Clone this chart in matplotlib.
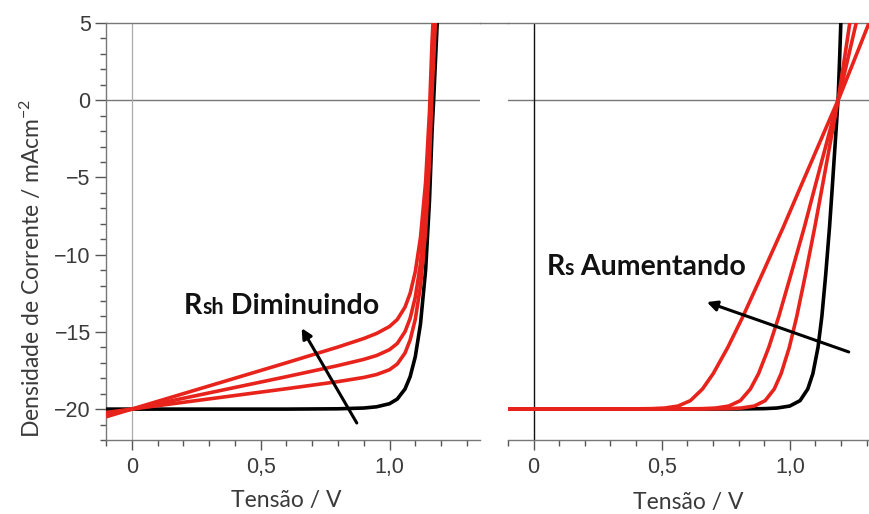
import matplotlib
matplotlib.use("Agg")
import matplotlib.pyplot as plt
from matplotlib.lines import Line2D
from matplotlib.ticker import MultipleLocator
from matplotlib.offsetbox import TextArea, HPacker, AnnotationBbox

plt.rcParams['font.family'] = ['Liberation Sans', 'DejaVu Sans']
plt.rcParams['mathtext.fontset'] = 'custom'
plt.rcParams['mathtext.rm'] = 'Lato'
plt.rcParams['mathtext.it'] = 'Lato'

# ---------------- data ----------------
# Left panel: shunt resistance decreasing
left_V = [-0.1, 0.0, 0.3, 0.6, 0.8, 0.9, 0.95, 1.0, 1.03, 1.06, 1.08, 1.10,
          1.12, 1.14, 1.155, 1.165, 1.172, 1.178, 1.185, 1.19]
left_black = [-20, -20, -20, -20, -19.98, -19.93, -19.85, -19.65, -19.35, -18.7,
              -17.9, -16.6, -14.5, -11.0, -6.5, -2.0, 0.3, 2.5, 5.0, 6.5]
left_red_1 = [-20.5, -20, -18.5, -17.0, -15.98, -15.43, -15.1, -14.65, -14.2,
              -13.4, -12.5, -11.1, -8.9, -5.3, -0.73, 3.83, 6.16]
left_red_2 = [-20.35, -20, -18.95, -17.9, -17.18, -16.78, -16.53, -16.15, -15.75,
              -14.99, -14.12, -12.75, -10.58, -7.01, -2.46, 2.08, 4.40, 6.62]
left_red_3 = [-20.22, -20, -19.34, -18.68, -18.22, -17.95, -17.76, -17.45, -17.08,
              -16.37, -15.52, -14.18, -12.04, -8.49, -3.96, 0.56, 2.88, 5.09, 7.61]

# Right panel: series resistance increasing
right_J = [-20, -20, -19.99, -19.97, -19.93, -19.8, -19.45, -18.7, -17.7, -16.0,
           -14.0, -11.3, -8.2, -5.8, -3.3, -1.3, 0.3, 3.0, 5.5]
right_black = [-0.1, 0.6, 0.8, 0.9, 0.95, 1.0, 1.04, 1.07, 1.09, 1.11, 1.125,
               1.14, 1.155, 1.165, 1.175, 1.183, 1.189, 1.195, 1.2]
right_red_1 = [-0.1, 0.16, 0.36, 0.461, 0.512, 0.564, 0.612, 0.659, 0.701, 0.758,
               0.817, 0.891, 0.975, 1.037, 1.102, 1.154, 1.196, 1.261, 1.321]
right_red_2 = [-0.1, 0.36, 0.56, 0.66, 0.711, 0.762, 0.807, 0.846, 0.878, 0.918,
               0.957, 1.004, 1.057, 1.095, 1.135, 1.167, 1.193, 1.231, 1.266]
right_red_3 = [-0.1, 0.46, 0.66, 0.76, 0.8105, 0.8614, 0.9038, 0.9391, 0.9661,
               0.998, 1.027, 1.0609, 1.0976, 1.1244, 1.1519, 1.1739, 1.1911,
               1.216, 1.2385]

y_ticks = [-20, -15, -10, -5, 0, 5]
y_tick_labels = ["\u221220", "\u221215", "\u221210", "\u22125", "0", "5"]
x_ticks = [0, 0.5, 1.0]
x_tick_labels = ["0", "0,5", "1,0"]

RED = '#e8231c'
TXT = '#3a3a3a'

W, H = 869, 514
fig = plt.figure(figsize=(W / 100, H / 100), dpi=100)
bot = 1 - 440 / H
hgt = (440 - 23) / H
ax1 = fig.add_axes([106 / W, bot, (480 - 106) / W, hgt])
ax2 = fig.add_axes([508 / W, bot, (869 - 508) / W, hgt])

for ax, xmax in ((ax1, 1.351), (ax2, 1.309)):
    ax.set_xlim(-0.1, xmax)
    ax.set_ylim(-22, 5)
    ax.spines['right'].set_visible(False)
    for s in ('top', 'bottom', 'left'):
        ax.spines[s].set_color('#777777')
        ax.spines[s].set_linewidth(1.0)
    ax.set_xticks(x_ticks)
    ax.set_xticklabels(x_tick_labels)
    ax.xaxis.set_minor_locator(MultipleLocator(0.1))
    ax.tick_params(axis='x', which='major', length=7, width=1, color='#555555',
                   labelsize=15.5, labelcolor=TXT, pad=5)
    ax.tick_params(axis='x', which='minor', length=4, width=1, color='#555555')
    ax.axhline(0, color='#777777', lw=1.0, zorder=1)

# Left axis
ax1.set_yticks(y_ticks)
ax1.set_yticklabels(y_tick_labels)
ax1.yaxis.set_minor_locator(MultipleLocator(1))
ax1.tick_params(axis='y', which='major', length=8, width=1, color='#555555',
                labelsize=15.5, labelcolor=TXT, pad=3)
ax1.tick_params(axis='y', which='minor', length=4, width=1, color='#555555')
ax1.axvline(0, color='#aaaaaa', lw=0.9, zorder=1)

ax2.spines['left'].set_visible(False)
ax2.set_yticks([])
ax2.axvline(0, color='#111111', lw=1.0, zorder=1)

# Curves left
lw = 2.6
ax1.plot(left_V[:len(left_black)], left_black, color='black', lw=lw, zorder=3,
         solid_capstyle='butt')
for r in (left_red_1, left_red_2, left_red_3):
    ax1.plot(left_V[:len(r)], r, color=RED, lw=lw, zorder=4, solid_capstyle='butt')

# Curves right
ax2.plot(right_black, right_J, color='black', lw=lw, zorder=3, solid_capstyle='butt')
for r in (right_red_1, right_red_2, right_red_3):
    ax2.plot(r, right_J, color=RED, lw=lw, zorder=4, solid_capstyle='butt')


# Annotations: "R" + small "sh"/"s" + rest
def label(ax, xy, sub, rest, big=20.5, small=15.5):
    props_big = dict(family=['Lato', 'DejaVu Sans'], fontweight='bold',
                     fontsize=big, color='#111111')
    props_small = dict(props_big, fontsize=small)
    parts = [TextArea("R", textprops=props_big),
             TextArea(sub, textprops=props_small),
             TextArea(" " + rest, textprops=props_big)]
    box = HPacker(children=parts, align="baseline", pad=0, sep=0)
    ab = AnnotationBbox(box, xy, xycoords='data', frameon=False,
                        box_alignment=(0.5, 0.5), zorder=6)
    ax.add_artist(ab)


label(ax1, (0.58, -13.3), "sh", "Diminuindo")
label(ax2, (0.44, -10.8), "s", "Aumentando")

arrow = dict(arrowstyle='-|>,head_length=0.6,head_width=0.3', color='black', lw=2.2,
             shrinkA=0, shrinkB=0)
ax1.annotate("", xy=(0.659, -14.76), xytext=(0.873, -20.9), arrowprops=arrow, zorder=7)
ax2.annotate("", xy=(0.676, -13.07), xytext=(1.23, -16.3), arrowprops=arrow, zorder=7)

# Axis labels
lab_font = dict(family=['Lato', 'DejaVu Sans'], fontsize=16.5, color=TXT)
fig.text(286 / W, 1 - 500 / H, "Tensão / V", ha='center', va='center', **lab_font)
fig.text(688 / W, 1 - 503 / H, "Tensão / V", ha='center', va='center', **lab_font)
fig.text(31 / W, 1 - 268 / H, "Densidade de Corrente / mAcm$^{-2}$", rotation=90,
         ha='center', va='center', fontsize=16.5, color=TXT,
         family=['Lato', 'DejaVu Sans'])

# top line bridging gap
fig.add_artist(Line2D([480 / W, 508 / W], [1 - 23 / H, 1 - 23 / H],
                      transform=fig.transFigure, color='#777777', lw=1.0))

fig.savefig("out.png", dpi=100)
